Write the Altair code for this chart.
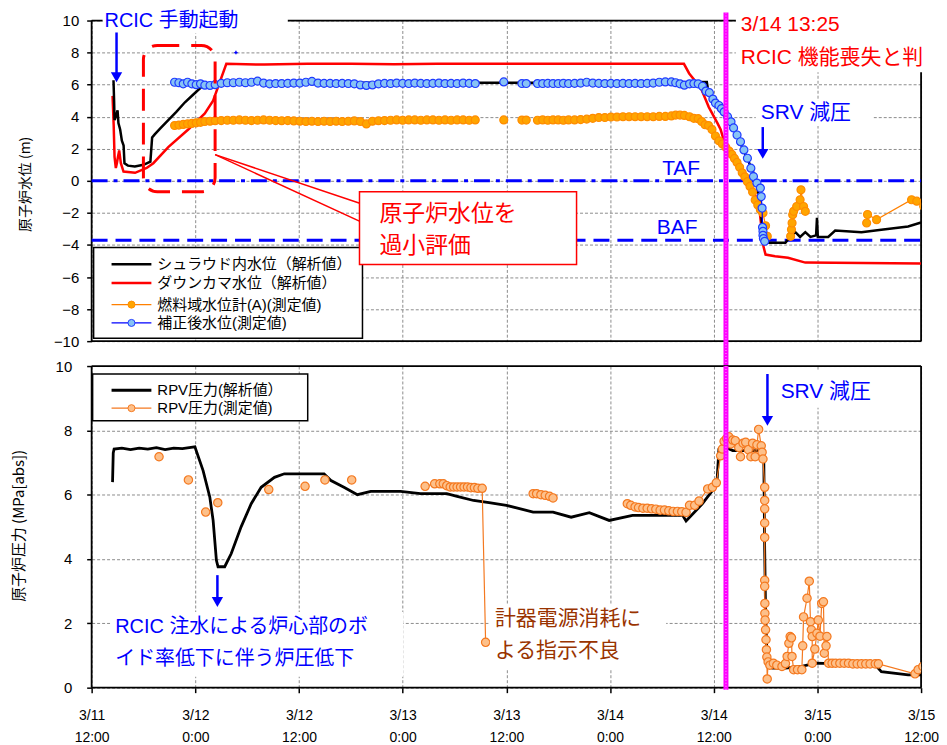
import altair as alt
import pandas as pd

# ---------------- data (hours since 3/11 12:00) ----------------
TICK_HOURS = [0, 12, 24, 36, 48, 60, 72, 84, 96]
TICK_DATES = ["3/11", "3/12", "3/12", "3/13", "3/13", "3/14", "3/14", "3/15", "3/15"]
TICK_TIMES = ["12:00", "0:00", "12:00", "0:00", "12:00", "0:00", "12:00", "0:00", "12:00"]

RCIC_LOSS_T = 73 + 25 / 60.0        # 3/14 13:25
LEVEL_TAF = 0.0
LEVEL_BAF = -3.7

SHROUD = [(2.53, 6.27), (2.6, 5.0), (2.65, 3.8), (2.8, 4.0), (3.0, 4.4), (3.1, 3.6), (3.3, 3.2),
          (3.5, 2.5), (3.7, 2.2), (3.8, 1.1), (4.2, 0.95), (5.0, 0.9), (6.0, 1.0), (6.8, 1.2),
          (7.0, 2.7), (7.3, 2.9), (8.0, 3.3), (8.9, 3.8), (9.8, 4.3), (10.8, 4.9), (11.8, 5.4),
          (12.7, 5.85), (13.5, 6.0), (14.1, 6.1), (20.0, 6.12), (30.0, 6.12), (40.0, 6.12),
          (50.0, 6.12), (60.0, 6.12), (68.0, 6.15), (71.2, 6.17), (71.4, 5.5), (72.2, 4.9),
          (72.6, 4.4), (73.0, 4.35), (74.2, 3.4), (75.3, 2.1), (76.8, 0.27), (77.4, -1.4),
          (77.7, -3.46), (78.0, -3.86), (80.3, -3.86), (80.9, -3.46), (81.45, -3.2), (82.0, -3.5),
          (82.6, -3.2), (83.2, -3.5), (83.85, -3.4), (83.95, -2.3), (84.05, -3.5), (85.25, -3.5),
          (86.06, -3.1), (89.1, -3.2), (91.4, -3.05), (94.5, -2.85), (96.0, -2.6)]

DOWNCOMER = [(2.42, 5.3), (2.55, 3.5), (2.65, 1.5), (2.8, 0.8), (2.92, 1.1), (3.05, 1.5), (3.19, 1.9),
             (3.38, 1.1), (3.69, 0.58), (5.03, 0.5), (6.37, 0.8), (7.14, 1.1), (8.87, 2.1),
             (11.18, 3.2), (13.1, 4.2), (14.06, 5.0), (15.59, 7.3), (20.0, 7.25), (25.0, 7.3),
             (30.0, 7.3), (35.0, 7.28), (40.0, 7.3), (50.0, 7.3), (60.0, 7.3), (68.55, 7.3),
             (69.16, 6.7), (70.5, 5.8), (71.43, 4.6), (72.43, 3.6), (72.8, 3.2), (73.4, 2.1),
             (74.5, 1.5), (76.0, 0.06), (77.2, -1.37), (77.65, -3.5), (77.76, -4.1), (78.0, -4.6),
             (79.1, -4.7), (80.6, -4.8), (82.6, -5.1), (96.0, -5.15)]

FUEL_1 = [(9.6, 3.45), (10.1, 3.48), (10.6, 3.52), (11.1, 3.55), (11.6, 3.58), (12.1, 3.62), (12.6, 3.65),
          (13.1, 3.7), (13.7, 3.72), (14.3, 3.75), (15.0, 3.76), (15.7, 3.78), (16.4, 3.78), (17.1, 3.8),
          (17.8, 3.78), (18.5, 3.76), (19.2, 3.78), (19.9, 3.8), (20.6, 3.78), (21.3, 3.76), (22.0, 3.75),
          (22.7, 3.76), (23.4, 3.74), (24.1, 3.72), (24.8, 3.7), (25.5, 3.72), (26.2, 3.7), (26.9, 3.72),
          (27.6, 3.7), (28.3, 3.72), (29.0, 3.7), (29.7, 3.72), (30.4, 3.74), (31.1, 3.7), (31.8, 3.55),
          (32.5, 3.72), (33.2, 3.75), (33.9, 3.76), (34.6, 3.78), (35.3, 3.8), (36.0, 3.78), (36.7, 3.8),
          (37.4, 3.8), (38.1, 3.78), (38.8, 3.8), (39.5, 3.8), (40.2, 3.78), (40.9, 3.8), (41.6, 3.78),
          (42.3, 3.8), (43.0, 3.8), (43.7, 3.78), (44.4, 3.8)]
FUEL_2 = [(47.7, 3.8)]
FUEL_3 = [(49.8, 3.79), (50.3, 3.79)]
FUEL_4 = [(51.6, 3.78), (52.2, 3.8), (52.8, 3.78), (53.4, 3.8), (54.0, 3.8), (54.6, 3.78), (55.2, 3.8),
          (55.9, 3.8), (56.6, 3.82), (57.3, 3.85), (58.0, 3.9), (58.7, 3.95), (59.4, 3.95), (60.1, 3.98),
          (60.8, 3.98), (61.5, 4.0), (62.2, 4.0), (62.9, 4.0), (63.6, 4.0), (64.3, 4.0), (65.0, 4.0),
          (65.7, 4.02), (66.4, 4.02), (67.1, 4.05), (67.6, 4.1), (68.1, 4.1), (68.6, 4.08), (69.2, 4.0),
          (69.7, 3.9), (70.2, 3.88), (70.6, 3.7), (71.0, 3.5), (71.4, 3.45), (71.8, 3.2), (72.2, 2.8),
          (72.6, 2.5), (73.0, 2.3), (73.4, 2.1), (73.8, 1.85), (74.1, 1.65), (74.4, 1.4), (74.7, 1.15),
          (75.0, 0.85), (75.3, 0.5), (75.6, 0.25), (75.9, -0.05), (76.2, -0.35), (76.5, -0.7),
          (76.8, -1.2), (77.1, -1.5), (77.4, -1.8), (77.7, -2.0), (78.0, -2.8), (78.2, -3.46)]
FUEL_5 = [(80.9, -3.46), (81.0, -3.04), (81.07, -2.63), (81.14, -2.11), (81.25, -1.9), (81.6, -1.6),
          (82.0, -1.18), (82.1, -0.56), (82.4, -1.6), (82.6, -1.9)]
FUEL_6 = [(89.7, -2.63), (89.8, -2.1), (90.85, -2.42), (94.9, -1.18), (95.5, -1.27), (96.3, -1.58)]

CORR_1 = [(9.6, 6.15), (10.1, 6.12), (10.6, 6.05), (11.1, 6.15), (11.6, 6.05), (12.1, 6.0), (12.6, 6.05),
          (13.1, 5.97), (13.7, 5.95), (14.3, 6.0), (15.0, 6.08), (15.7, 6.12), (16.4, 6.12), (17.1, 6.15),
          (17.8, 6.12), (18.5, 6.15), (19.2, 6.22), (19.9, 6.1), (20.6, 6.05), (21.3, 6.07), (22.0, 6.07),
          (22.7, 6.08), (23.4, 6.1), (24.1, 6.1), (24.8, 6.15), (25.5, 6.2), (26.2, 6.1), (26.9, 6.08),
          (27.6, 6.08), (28.3, 6.07), (29.0, 6.08), (29.7, 6.07), (30.4, 6.05), (31.1, 5.98), (31.8, 5.95),
          (32.5, 5.98), (33.2, 6.05), (33.9, 6.08), (34.6, 6.07), (35.3, 6.1), (36.0, 6.08), (36.7, 6.07),
          (37.4, 6.1), (38.1, 6.08), (38.8, 6.07), (39.5, 6.08), (40.2, 6.1), (40.9, 6.07), (41.6, 6.08),
          (42.3, 6.07), (43.0, 6.1), (43.7, 6.08), (44.4, 6.07)]
CORR_2 = [(47.7, 6.17)]
CORR_3 = [(49.8, 6.07), (50.3, 6.07)]
CORR_4 = [(51.6, 6.07), (52.2, 6.07), (52.8, 6.08), (53.4, 6.07), (54.0, 6.07), (54.6, 6.08), (55.2, 6.07),
          (55.9, 6.08), (56.6, 6.1), (57.3, 6.15), (58.0, 6.1), (58.7, 6.08), (59.4, 6.07), (60.1, 6.08),
          (60.8, 6.07), (61.5, 6.08), (62.2, 6.07), (62.9, 6.08), (63.6, 6.07), (64.3, 6.08), (65.0, 6.1),
          (65.7, 6.15), (66.4, 6.17), (67.1, 6.17), (67.6, 6.12), (68.1, 6.05), (68.6, 5.97), (69.2, 6.05),
          (69.7, 6.07), (70.2, 6.05), (70.7, 5.9), (71.1, 5.6), (71.5, 5.5), (71.9, 5.1), (72.2, 4.85),
          (72.6, 4.7), (72.9, 4.5), (73.2, 4.3), (73.6, 4.0), (74.0, 3.68), (74.3, 3.3), (74.7, 2.86),
          (75.1, 2.44), (75.5, 1.93), (75.9, 1.41), (76.3, 0.79), (76.6, 0.27), (77.0, -0.14),
          (77.4, -0.45), (77.5, -0.98), (77.6, -1.7), (77.65, -2.9), (77.7, -3.15), (77.7, -3.4),
          (77.75, -3.6), (77.9, -3.77)]
CORR_STRAY = [(16.7, 8.0)]

P_CALC = [(2.42, 6.39), (2.5, 7.3), (2.6, 7.42), (3.5, 7.45), (4.5, 7.4), (5.5, 7.45), (6.5, 7.42),
          (7.5, 7.46), (8.5, 7.4), (9.5, 7.45), (10.5, 7.43), (11.5, 7.47), (11.95, 7.49), (12.9, 6.75),
          (13.68, 5.92), (14.06, 5.2), (14.44, 3.96), (14.63, 3.76), (15.4, 3.76), (16.16, 4.17),
          (17.3, 5.0), (18.47, 5.72), (19.62, 6.23), (21.16, 6.54), (22.3, 6.65), (26.9, 6.65),
          (27.7, 6.44), (29.2, 6.23), (30.76, 6.0), (32.3, 6.1), (35.75, 6.1), (38.05, 6.03),
          (41.1, 6.03), (42.3, 5.95), (44.2, 5.82), (46.0, 5.75), (48.0, 5.67), (51.1, 5.46),
          (53.4, 5.46), (55.5, 5.30), (57.6, 5.44), (59.9, 5.2), (62.6, 5.36), (68.4, 5.36),
          (68.8, 5.18), (70.7, 5.72), (71.85, 6.13), (72.4, 6.49), (72.6, 7.42), (73.0, 7.52),
          (74.2, 7.37), (75.7, 7.37), (77.6, 7.37), (77.8, 7.0), (77.9, 4.27), (78.0, 2.41),
          (78.2, 0.66), (78.8, 0.61), (80.3, 0.61), (82.2, 0.66), (83.75, 0.76), (90.7, 0.71),
          (91.4, 0.5), (94.5, 0.4), (96.0, 0.4)]

PM_SINGLES = [(7.8, 7.18), (11.2, 6.46), (13.2, 5.46), (14.6, 5.75), (20.5, 6.16), (24.7, 6.26),
              (27.0, 6.46), (30.1, 6.46)]
PM_2 = [(38.6, 6.26), (39.7, 6.34), (40.3, 6.34), (40.7, 6.34), (41.1, 6.28), (41.5, 6.24), (41.9, 6.24),
        (42.3, 6.24), (42.7, 6.24), (43.1, 6.24), (43.5, 6.24), (43.9, 6.22), (44.3, 6.22), (44.7, 6.2),
        (45.2, 6.2), (45.6, 1.41)]
PM_3 = [(51.1, 6.03), (51.5, 6.03), (52.0, 6.0), (52.5, 5.98), (53.0, 5.95), (53.4, 5.9)]
PM_4 = [(62.0, 5.72), (62.4, 5.67), (62.9, 5.62), (63.3, 5.6), (63.8, 5.58), (64.3, 5.58), (64.8, 5.56),
        (65.3, 5.55), (65.8, 5.52), (66.3, 5.52), (66.8, 5.5), (67.3, 5.48), (67.8, 5.48), (68.3, 5.47),
        (68.8, 5.45), (69.2, 5.67), (69.8, 5.67), (70.3, 5.8), (71.3, 6.18), (71.85, 6.23), (72.3, 6.37),
        (72.8, 7.21), (73.0, 7.42), (73.2, 7.66), (73.5, 7.75), (73.75, 7.8), (73.96, 7.58), (74.2, 7.7),
        (74.5, 7.68), (74.9, 7.47), (75.1, 7.18), (75.4, 7.6), (75.7, 7.63), (76.0, 7.4), (76.3, 7.18),
        (76.5, 7.6), (76.8, 7.18), (77.0, 7.55), (77.2, 8.03), (77.5, 7.52), (77.6, 7.32), (77.7, 7.11),
        (77.9, 6.23), (77.9, 5.82), (77.9, 5.56), (77.9, 5.12), (77.9, 4.67), (77.9, 3.34), (77.9, 3.15),
        (77.92, 2.62), (77.92, 2.31), (77.95, 2.1), (78.0, 1.8), (78.05, 1.49), (78.1, 1.18),
        (78.15, 0.95), (78.19, 0.27), (78.3, 0.8), (78.5, 0.7), (78.9, 0.76), (79.3, 0.7), (79.9, 0.66),
        (80.3, 0.75), (80.5, 0.97), (80.7, 1.38), (80.85, 1.59), (81.0, 1.55), (81.06, 0.97),
        (81.25, 0.56), (81.7, 0.56), (82.2, 0.56), (82.3, 1.3), (82.4, 2.2), (82.8, 2.78), (83.06, 3.31),
        (83.2, 2.05), (83.3, 1.8), (83.4, 1.59), (83.4, 0.76), (83.7, 1.2), (83.95, 1.69), (84.1, 2.1),
        (84.3, 1.6), (84.5, 2.62), (84.7, 2.67), (84.8, 1.07), (85.0, 1.3), (85.1, 1.59), (85.3, 0.76),
        (85.7, 0.76), (86.1, 0.76), (86.6, 0.76), (87.1, 0.76), (87.6, 0.76), (88.1, 0.74), (88.6, 0.74),
        (89.1, 0.74), (89.6, 0.74), (90.1, 0.74), (90.7, 0.74), (91.06, 0.74), (95.3, 0.43),
        (95.66, 0.56), (96.2, 0.66)]

LEGEND_TOP = ["シュラウド内水位（解析値）", "ダウンカマ水位（解析値）", "燃料域水位計(A)(測定値)", "補正後水位(測定値)"]
LEGEND_BOTTOM = ["RPV圧力(解析値）", "RPV圧力(測定値)"]

# ---------------- style ----------------
W, H1, H2 = 833, 322, 323
FONT = "Liberation Sans, Noto Sans CJK JP"
BLUE = "#0000FF"
RED = "#FF0000"
BROWN = "#993300"
OR_LINE, OR_FILL, OR_STROKE = "#FF8000", "#FFA500", "#FF8C00"
BL_LINE, BL_FILL, BL_STROKE = "#0000FF", "#87C3F5", "#1F3BFF"
PM_LINE, PM_FILL, PM_STROKE = "#F47920", "#FDC08A", "#F47920"
PINK = "#FF00FF"
GRID = "#8C8C8C"

ONE = pd.DataFrame({"k": [0]})


def plain(pairs):
    return pd.DataFrame(pairs, columns=["t", "v"])


def segmented(segments):
    rows, i = [], 0
    for s, seg in enumerate(segments):
        for t, v in seg:
            rows.append({"t": t, "v": v, "seg": s, "i": i})
            i += 1
    return pd.DataFrame(rows)


def text(s, x, y, size, color, align="left", limit=None):
    kw = dict(text=s, fontSize=size, color=color, align=align, baseline="middle", font=FONT)
    if limit:
        kw["limit"] = limit
        kw["ellipsis"] = "\u200b"
    return alt.Chart(ONE).mark_text(**kw).encode(x=alt.value(x), y=alt.value(y))


def box(x1, y1, x2, y2, stroke=None, sw=1.5, dash=None, radius=0, fill=True):
    kw = dict(fill="white", fillOpacity=1 if fill else 0)
    if stroke:
        kw.update(stroke=stroke, strokeWidth=sw)
    if dash:
        kw["strokeDash"] = dash
    if radius:
        kw["cornerRadius"] = radius
    return alt.Chart(ONE).mark_rect(**kw).encode(
        x=alt.value(x1), x2=alt.value(x2), y=alt.value(y1), y2=alt.value(y2))


def seg_line(x1, y1, x2, y2, color="black", sw=1.5, dash=None):
    kw = dict(color=color, strokeWidth=sw)
    if dash:
        kw["strokeDash"] = dash
    return alt.Chart(ONE).mark_rule(**kw).encode(
        x=alt.value(x1), y=alt.value(y1), x2=alt.value(x2), y2=alt.value(y2))


def arrow(x, y1, tip, color=BLUE):
    shaft = seg_line(x, y1, x, tip - 9, color=color, sw=2.5)
    head = alt.Chart(ONE).mark_point(shape="triangle-down", filled=True, color=color,
                                     size=130, opacity=1).encode(x=alt.value(x), y=alt.value(tip - 5))
    return [shaft, head]


def frame(h):
    return [seg_line(0, 0, W, 0, sw=1.8), seg_line(0, h, W, h, sw=1.8),
            seg_line(0, 0, 0, h, sw=1.8), seg_line(W, 0, W, h, sw=1.8)]


def legend_item(y, label, color, sw, marker=None):
    parts = [seg_line(20, y, 60, y, color=color, sw=sw)]
    if marker:
        fill, stroke = marker
        parts.append(alt.Chart(ONE).mark_point(shape="circle", filled=True, fill=fill, stroke=stroke,
                                               strokeWidth=1, size=50, opacity=1)
                     .encode(x=alt.value(40), y=alt.value(y)))
    parts.append(text(label, 66, y, 15, "black"))
    return parts


x_scale = alt.Scale(domain=[0, 96], nice=False, zero=False)
label_expr = "[" + ",".join(f"['{d}','{t}']" for d, t in zip(TICK_DATES, TICK_TIMES)) + "][round(datum.value/12)]"

x_top = alt.X("t:Q", scale=x_scale, axis=alt.Axis(values=TICK_HOURS, labels=False, ticks=False,
                                                  domain=False, grid=True, title=None))
x_bot = alt.X("t:Q", scale=x_scale, axis=alt.Axis(values=TICK_HOURS, labelExpr=label_expr, ticks=True,
                                                  tickSize=5, tickWidth=1.5, domain=False, grid=True,
                                                  title=None, labelFontSize=14, labelLineHeight=22,
                                                  labelPadding=16, labelFont="Liberation Sans",
                                                  labelFlush=False, labelOverlap=False))
y_top = alt.Y("v:Q", scale=alt.Scale(domain=[-10, 10], nice=False),
              axis=alt.Axis(values=list(range(-10, 11, 2)), title="原子炉水位 (m)", grid=True, domain=False,
                            tickSize=5, tickWidth=1.5, labelPadding=8, titleX=-66, titleY=164,
                            titleAngle=270, titleBaseline="middle", titleAlign="center", titleFontSize=14))
y_bot = alt.Y("v:Q", scale=alt.Scale(domain=[0, 10], nice=False),
              axis=alt.Axis(values=list(range(0, 11, 2)), title="原子炉圧力 (MPa[abs])", grid=True,
                            domain=False, tickSize=5, tickWidth=1.5, labelPadding=15, titleX=-73,
                            titleY=160, titleAngle=270, titleBaseline="middle", titleAlign="center",
                            titleFontSize=15))

# ---------------- top panel ----------------
fuel_df = segmented([FUEL_1, FUEL_2, FUEL_3, FUEL_4, FUEL_5, FUEL_6])
corr_df = segmented([CORR_1, CORR_2, CORR_3, CORR_4])

top_layers = frame(H1)
top_layers += [
    alt.Chart(pd.DataFrame({"v": [LEVEL_TAF]})).mark_rule(color=BLUE, strokeWidth=3, strokeDash=[16, 6, 4, 6])
    .encode(y=y_top, x=alt.value(0), x2=alt.value(W)),
    alt.Chart(pd.DataFrame({"v": [LEVEL_BAF]})).mark_rule(color=BLUE, strokeWidth=3, strokeDash=[16, 8])
    .encode(y=y_top, x=alt.value(0), x2=alt.value(W)),
    alt.Chart(plain(DOWNCOMER)).mark_line(color=RED, strokeWidth=2.5, clip=True).encode(x=x_top, y=y_top),
    alt.Chart(plain(SHROUD)).mark_line(color="black", strokeWidth=2.5, clip=True).encode(x=x_top, y=y_top),
    alt.Chart(fuel_df).mark_line(color=OR_LINE, strokeWidth=1.2, clip=True)
    .encode(x=x_top, y=y_top, detail="seg:N", order="i:Q"),
    alt.Chart(fuel_df).mark_point(shape="circle", filled=True, fill=OR_FILL, stroke=OR_STROKE, strokeWidth=1.2,
                                  size=64, opacity=1, clip=True).encode(x=x_top, y=y_top),
    alt.Chart(corr_df).mark_line(color=BL_LINE, strokeWidth=1.2, clip=True)
    .encode(x=x_top, y=y_top, detail="seg:N", order="i:Q"),
    alt.Chart(corr_df).mark_point(shape="circle", filled=True, fill=BL_FILL, stroke=BL_STROKE, strokeWidth=1.2,
                                  size=64, opacity=1, clip=True).encode(x=x_top, y=y_top),
    alt.Chart(plain(CORR_STRAY)).mark_point(shape="cross", filled=True, color=BLUE, size=12, opacity=1)
    .encode(x=x_top, y=y_top),
    alt.Chart(pd.DataFrame({"t": [RCIC_LOSS_T]})).mark_rule(color=PINK, strokeWidth=5)
    .encode(x=x_top, y=alt.value(-8), y2=alt.value(H1 + 25)),
    alt.Chart(pd.DataFrame({"t": [RCIC_LOSS_T]})).mark_rule(color="#FFA0FF", strokeWidth=1.2, strokeDash=[1, 2])
    .encode(x=x_top, y=alt.value(-8), y2=alt.value(H1 + 25)),
]
# legend
top_layers.append(box(2, 228, 272, 319, stroke="black", sw=1.5))
top_layers += legend_item(244.7, LEGEND_TOP[0], "black", 2.5)
top_layers += legend_item(263.7, LEGEND_TOP[1], RED, 2.5)
top_layers += legend_item(285.3, LEGEND_TOP[2], OR_LINE, 1.2, (OR_FILL, OR_STROKE))
top_layers += legend_item(303.7, LEGEND_TOP[3], BL_LINE, 1.2, (BL_FILL, BL_STROKE))
# dashed highlight and callout
top_layers.append(box(52, 25, 124, 172, stroke=RED, sw=3, dash=[22, 12], radius=14, fill=False))
top_layers.append(seg_line(124, 134.7, 270, 183.7, color=RED, sw=1.5))
top_layers.append(seg_line(124, 134.7, 270, 202, color=RED, sw=1.5))
top_layers.append(box(269, 172, 487, 245, stroke=RED, sw=1.5))
top_layers.append(text("原子炉水位を", 289, 194, 23, RED))
top_layers.append(text("過小評価", 289, 226, 23, RED))
# RCIC manual start
top_layers.append(box(11, -10, 197, 13))
top_layers.append(text("RCIC 手動起動", 13, 0, 20, BLUE))
top_layers += arrow(25, 12, 62)
# RCIC loss
top_layers.append(box(647, -10, 846, 52))
top_layers.append(text("3/14 13:25", 652, 5, 21, RED))
top_layers.append(text("RCIC 機能喪失と判断", 652, 38, 21, RED, limit=200))
# SRV
top_layers.append(box(667, 80, 785, 106))
top_layers.append(text("SRV 減圧", 672, 93, 21, BLUE))
top_layers += arrow(674, 107, 139)
top_layers.append(text("TAF", 592, 149, 21, BLUE, align="center"))
top_layers.append(text("BAF", 588, 208, 21, BLUE, align="center"))

top = alt.layer(*top_layers).properties(width=W, height=H1)

# ---------------- bottom panel ----------------
pm_df = segmented([[p] for p in PM_SINGLES] + [PM_2, PM_3, PM_4])

bot_layers = frame(H2)
bot_layers += [
    alt.Chart(plain(P_CALC)).mark_line(color="black", strokeWidth=2.8, clip=True).encode(x=x_bot, y=y_bot),
    alt.Chart(pm_df).mark_line(color=PM_LINE, strokeWidth=1.2, clip=True)
    .encode(x=x_bot, y=y_bot, detail="seg:N", order="i:Q"),
    alt.Chart(pm_df).mark_point(shape="circle", filled=True, fill=PM_FILL, stroke=PM_STROKE, strokeWidth=1.2,
                                size=70, opacity=1, clip=True).encode(x=x_bot, y=y_bot),
    alt.Chart(pd.DataFrame({"t": [RCIC_LOSS_T]})).mark_rule(color=PINK, strokeWidth=5)
    .encode(x=x_bot, y=alt.value(0), y2=alt.value(H2 + 2)),
    alt.Chart(pd.DataFrame({"t": [RCIC_LOSS_T]})).mark_rule(color="#FFA0FF", strokeWidth=1.2, strokeDash=[1, 2])
    .encode(x=x_bot, y=alt.value(0), y2=alt.value(H2 + 2)),
]
bot_layers.append(box(1, 8, 217, 55, stroke="black", sw=1.5))
bot_layers += legend_item(24.3, LEGEND_BOTTOM[0], "black", 2.8)
bot_layers += legend_item(42.3, LEGEND_BOTTOM[1], PM_LINE, 1.2, (PM_FILL, PM_STROKE))
bot_layers.append(box(685, 5, 795, 42))
bot_layers.append(text("SRV 減圧", 692, 26, 21, BLUE))
bot_layers += arrow(678.7, 8, 60)
bot_layers += arrow(126.3, 210, 242)
bot_layers.append(box(19, 247, 313, 312))
bot_layers.append(text("RCIC 注水による炉心部のボ", 23.7, 262.5, 20, BLUE))
bot_layers.append(text("イド率低下に伴う炉圧低下", 23.7, 294, 20, BLUE))
bot_layers.append(box(400, 240, 577, 305))
bot_layers.append(text("計器電源消耗に", 405, 254, 21, BROWN))
bot_layers.append(text("よる指示不良", 405, 286, 21, BROWN))

bottom = alt.layer(*bot_layers).properties(width=W, height=H2)

chart = (
    alt.vconcat(top, bottom, spacing=25, bounds="flush")
    .properties(padding={"left": 4, "top": 0, "right": 0, "bottom": 0}, background="white")
    .configure_view(stroke=None)
    .configure_axis(labelFont="Liberation Sans", labelFontSize=15, labelColor="black", tickColor="black",
                    gridColor=GRID, gridDash=[3, 2], gridWidth=1, gridOpacity=1,
                    titleFont="Noto Sans CJK JP", titleFontWeight="normal", titleColor="black")
)

chart.save("out.html", embed_options={"renderer": "svg", "actions": False})
